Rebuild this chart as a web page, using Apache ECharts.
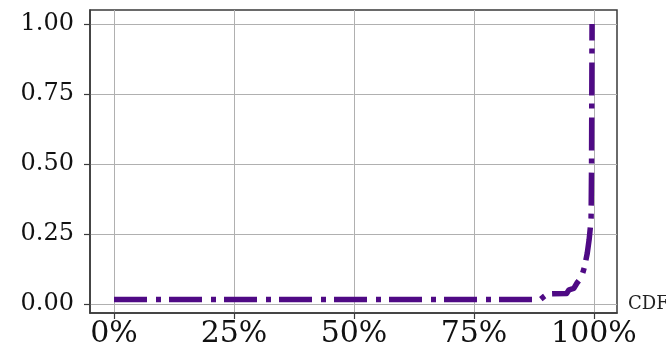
<!DOCTYPE html>
<html>
<head>
<meta charset="utf-8">
<script src="https://cdn.jsdelivr.net/npm/echarts@6/dist/echarts.min.js"></script>
<style>
  html, body { margin: 0; padding: 0; background: #fff; }
  #chart { width: 666px; height: 354px; }
</style>
</head>
<body>
<div id="chart"></div>
<script>
// Sorted-value curve: share of samples (percent) against value
const percentiles = [0, 88.8, 89.5, 90.3, 94.3, 94.8, 95.8, 96.5, 97.4, 98.0, 98.6, 99.0, 99.4, 99.5, 99.6];
const values      = [0.015, 0.015, 0.025, 0.035, 0.037, 0.05, 0.055, 0.075, 0.095, 0.13, 0.18, 0.23, 0.3, 0.5, 1.0];

const xTicks = [0, 25, 50, 75, 100];
const yTicks = [0, 0.25, 0.5, 0.75, 1.0];
const seriesName = 'CDF';

const chart = echarts.init(document.getElementById('chart'), null, { renderer: 'canvas' });

const serif = 'DejaVu Serif';
const frameColor = '#3a3a3a';
const gridColor = '#b0b0b0';

chart.setOption({
  animation: false,
  backgroundColor: '#fff',
  grid: {
    left: 90, right: 49, top: 10, bottom: 41,
    outerBoundsMode: 'none',
    containLabel: false,
    show: true, borderColor: frameColor, borderWidth: 1.5, backgroundColor: 'transparent'
  },
  xAxis: {
    type: 'value',
    min: -5, max: 104.8,
    name: seriesName,
    nameLocation: 'end',
    nameGap: 11,
    nameTextStyle: { fontFamily: serif, fontSize: 18, color: '#222', verticalAlign: 'bottom', padding: [0, 0, 0, 0] },
    axisLine: { show: true, onZero: false, lineStyle: { color: frameColor, width: 1.5 } },
    axisTick: { show: true, length: 6, customValues: xTicks, lineStyle: { color: frameColor, width: 1.2 } },
    axisLabel: {
      customValues: xTicks, margin: 6,
      fontFamily: serif, fontSize: 30, color: '#111',
      formatter: v => v + '%'
    },
    splitLine: { show: true, lineStyle: { color: gridColor, width: 1 } }
  },
  yAxis: {
    type: 'value',
    min: -0.033, max: 1.05,
    axisLine: { show: true, onZero: false, lineStyle: { color: frameColor, width: 1.5 } },
    axisTick: { show: true, length: 6, customValues: yTicks, lineStyle: { color: frameColor, width: 1.2 } },
    axisLabel: {
      customValues: yTicks, margin: 16,
      fontFamily: serif, fontSize: 24, color: '#111',
      formatter: v => v.toFixed(2)
    },
    splitLine: { show: true, lineStyle: { color: gridColor, width: 1 } }
  },
  series: [{
    name: seriesName,
    type: 'line',
    data: percentiles.map((p, i) => [p, values[i]]),
    showSymbol: false,
    lineStyle: { color: '#4f0a85', width: 5.5, type: [33, 9, 5, 8], cap: 'butt', join: 'round' }
  }]
});
</script>
</body>
</html>
